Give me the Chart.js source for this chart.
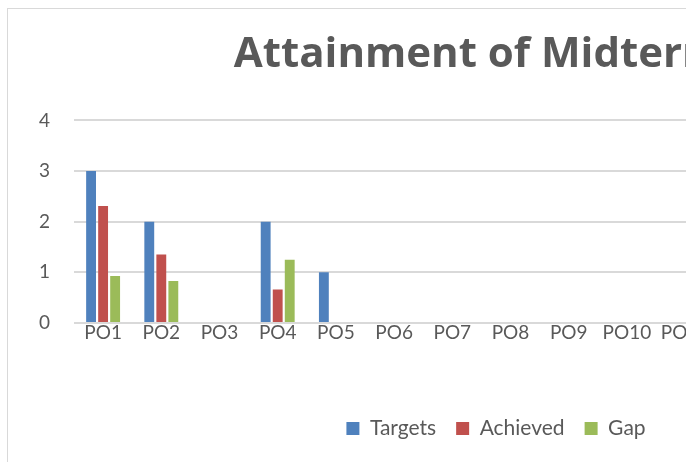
<!DOCTYPE html>
<html>
<head>
<meta charset="utf-8">
<script src="https://cdn.jsdelivr.net/npm/chart.js@4/dist/chart.umd.min.js"></script>
<style>
  html, body { margin: 0; padding: 0; background: #fff; overflow: hidden; width: 686px; height: 462px; }
  #box { position: absolute; left: 7px; top: 8px; width: 992px; height: 460px; border: 1px solid #d9d9d9; background: #fff; }
  canvas { display: block; }
</style>
</head>
<body>
<div id="box"><canvas id="attainChart" width="992" height="440"></canvas></div>
<script>
// Attainment of Midterm - grouped bars per PO

const COLORS = {
    blue: '#4f81bd',
    red: '#c0504d',
    green: '#9bbb59',
    grid: '#d9d9d9',
    text: '#595959'
};

const labels = ['PO1', 'PO2', 'PO3', 'PO4', 'PO5', 'PO6', 'PO7', 'PO8', 'PO9', 'PO10', 'PO11', 'PO12', 'PSO1', 'PSO2', 'PSO3'];
const targets  = [3, 2, null, 2, 1, null, null, null, null, null, null, null, null, null, null];
const achieved = [2.31, 1.35, null, 0.66, null, null, null, null, null, null, null, null, null, null, null];
const gap      = [0.93, 0.83, null, 1.25, null, null, null, null, null, null, null, null, null, null, null];
const yTicks = [0, 1, 2, 3, 4];

Chart.defaults.font.family = "Lato, 'Open Sans', sans-serif";
Chart.defaults.color = COLORS.text;

new Chart(document.getElementById('attainChart'), {
    type: 'bar',
    data: {
        labels: labels,
        datasets: [
            { label: 'Targets', data: targets, backgroundColor: COLORS.blue },
            { label: 'Achieved', data: achieved, backgroundColor: COLORS.red },
            { label: 'Gap', data: gap, backgroundColor: COLORS.green }
        ]
    },
    options: {
        responsive: false,
        animation: false,
        categoryPercentage: 0.62,
        barPercentage: 0.82,
        layout: { padding: { left: 0, right: 16, top: 0, bottom: 0 } },
        plugins: {
            title: {
                display: true,
                text: 'Attainment of Midterm 1',
                font: { family: "'Open Sans', sans-serif", size: 42, weight: 'bold' },
                color: COLORS.text,
                padding: { top: 21, bottom: 40 }
            },
            legend: {
                position: 'bottom',
                labels: { boxWidth: 13, boxHeight: 13, font: { size: 21 }, color: COLORS.text, padding: 20 }
            },
            tooltip: { enabled: false }
        },
        scales: {
            x: {
                afterFit: axis => { axis.height = 75; },
                grid: { display: false, drawTicks: false },
                border: { display: false },
                ticks: { font: { size: 19 }, color: COLORS.text, padding: -2, maxRotation: 0, autoSkip: false }
            },
            y: {
                min: 0,
                max: 4,
                afterFit: axis => { axis.width = 66; },
                afterBuildTicks: axis => { axis.ticks = yTicks.map(v => ({ value: v })); },
                grid: { color: COLORS.grid, lineWidth: 2, drawTicks: false },
                border: { display: false },
                ticks: { font: { size: 19 }, color: COLORS.text, padding: 24 }
            },
            // empty right-hand gutter, keeps plot width like the original
            yGutter: {
                type: 'linear',
                position: 'right',
                afterFit: axis => { axis.width = 37; },
                grid: { display: false, drawTicks: false },
                border: { display: false },
                ticks: { display: false }
            }
        }
    }
});
</script>
</body>
</html>
